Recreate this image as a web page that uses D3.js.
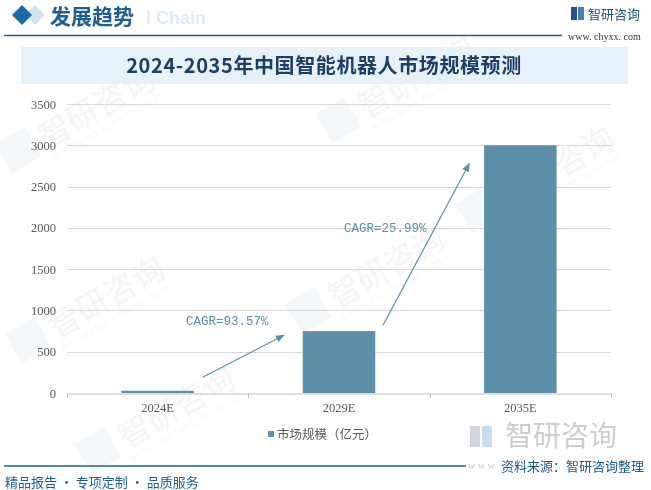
<!DOCTYPE html>
<html><head><meta charset="utf-8">
<script src="https://cdn.jsdelivr.net/npm/d3@7"></script>
<style>
html,body{margin:0;padding:0;background:#fff;}
svg{display:block;}
</style></head>
<body>
<svg id="c" width="651" height="490"></svg>
<script>
const categories = ["2024E", "2029E", "2035E"];
const values = [27, 750, 3000];
const yTicks = [0, 500, 1000, 1500, 2000, 2500, 3000, 3500];
const seriesName = "市场规模（亿元）";
const title = "2024-2035年中国智能机器人市场规模预测";
const cagrLabels = ["CAGR=93.57%", "CAGR=25.99%"];

const svg = d3.select("#c");
const W = 651, H = 490;
const plot = {l: 67, r: 611, t: 104, b: 393};
const cjk = "'Noto Sans CJK SC', 'Noto Sans', sans-serif";
const serifNum = "'Liberation Serif', 'DejaVu Serif', serif";

// faint watermarks
const wm = svg.append("g").attr("opacity", 0.05);
[[10,170],[330,140],[20,360],[300,330],[90,470],[470,230]].forEach(([x,y])=>{
  const g = wm.append("g").attr("transform", `translate(${x},${y}) rotate(-30)`);
  g.append("rect").attr("x",0).attr("y",-30).attr("width",34).attr("height",34).attr("fill","#2a6fb0");
  g.append("text").attr("x",42).attr("y",0).attr("font-family",cjk).attr("font-size",32).attr("fill","#333").text("智研咨询");
  g.append("text").attr("x",42).attr("y",14).attr("font-family",cjk).attr("font-size",8).attr("fill","#333").text("INTELLIGENCE RESEARCH GROUP");
});

// header
svg.append("text").attr("x",146).attr("y",24).attr("font-family","'Liberation Sans', Arial, sans-serif")
  .attr("font-weight","bold").attr("font-size",18).attr("fill","#deebf6").text("l Chain");
svg.append("path").attr("d","M35,5 L45,15 L35,25 L25,15 Z").attr("fill","#cfe2f0");
svg.append("path").attr("d","M22,5 L32,15 L22,25 L12,15 Z").attr("fill","#1a6aa5");
svg.append("text").attr("x",50).attr("y",24).attr("font-family",cjk).attr("font-weight","bold")
  .attr("font-size",21).attr("fill","#1d5f95").text("发展趋势");
svg.append("line").attr("x1",4).attr("x2",562).attr("y1",35.5).attr("y2",35.5).attr("stroke","#1a5f96").attr("stroke-width",1.5);

// top-right logo
svg.append("rect").attr("x",571).attr("y",7).attr("width",6).attr("height",13).attr("fill","#2a4f8f");
svg.append("rect").attr("x",578).attr("y",7).attr("width",6).attr("height",13).attr("fill","#3c7fc2");
svg.append("text").attr("x",588).attr("y",19).attr("font-family",cjk).attr("font-size",13).attr("fill","#1f4e86").text("智研咨询");
svg.append("text").attr("x",568).attr("y",40).attr("font-family",serifNum).attr("font-size",10).attr("fill","#333").text("www. chyxx. com");

// title band
svg.append("rect").attr("x",21).attr("y",47).attr("width",607).attr("height",37).attr("fill","#e6f1fa");
svg.append("text").attr("x",324).attr("y",73).attr("text-anchor","middle").attr("font-family","'Noto Sans CJK SC', sans-serif")
  .attr("font-weight","bold").attr("font-size",20).attr("letter-spacing",0.6).attr("fill","#1c3f66").text(title);

// scales
const x = d3.scaleBand().domain(categories).range([plot.l, plot.r]).paddingInner(0).paddingOuter(0);
const y = d3.scaleLinear().domain([0, 3500]).range([plot.b, plot.t]);
const barW = x.bandwidth() * 0.4;

// grid
svg.append("g").selectAll("line").data(yTicks.filter(d=>d>0)).join("line")
  .attr("x1",plot.l).attr("x2",plot.r).attr("y1",d=>Math.round(y(d))+0.5).attr("y2",d=>Math.round(y(d))+0.5)
  .attr("stroke","#d9d9d9").attr("stroke-width",1);

// y labels
svg.append("g").selectAll("text").data(yTicks).join("text")
  .attr("x",56).attr("y",d=>y(d)+4.5).attr("text-anchor","end")
  .attr("font-family",serifNum).attr("font-size",12.5).attr("fill","#595959").text(d=>d);

// bars
svg.append("g").selectAll("rect").data(values).join("rect")
  .attr("x",(d,i)=>x(categories[i]) + (x.bandwidth()-barW)/2)
  .attr("y",d=>y(d)).attr("width",barW).attr("height",d=>plot.b - y(d))
  .attr("fill","#5d8fa8");

// x axis
const xAxis = d3.axisBottom(x).tickSize(0).tickFormat(d=>d);
const xg = svg.append("g").attr("transform",`translate(0,${plot.b+0.5})`).call(xAxis);
xg.select(".domain").attr("stroke","#bfbfbf");
xg.selectAll("text").attr("font-family",serifNum).attr("font-size",12.5).attr("fill","#595959").attr("dy","1.25em");
const bounds = categories.map(c=>x(c)).concat([plot.r]);
svg.append("g").selectAll("line").data(bounds).join("line")
  .attr("x1",d=>Math.round(d)+0.5).attr("x2",d=>Math.round(d)+0.5).attr("y1",plot.b).attr("y2",plot.b+5)
  .attr("stroke","#bfbfbf");

// CAGR annotations
const ac = "#5b8fa8";
const defs = svg.append("defs");
defs.append("marker").attr("id","ar").attr("viewBox","0 0 10 10").attr("refX",9).attr("refY",5)
  .attr("markerWidth",9).attr("markerHeight",9).attr("orient","auto").attr("markerUnits","userSpaceOnUse")
  .append("path").attr("d","M0,1 L10,5 L0,9 Z").attr("fill",ac);
const c0 = x(categories[0]) + x.bandwidth()/2, c1 = x(categories[1]) + x.bandwidth()/2, c2 = x(categories[2]) + x.bandwidth()/2;
svg.append("line").attr("x1",c0+45).attr("y1",y(190)).attr("x2",c1-55).attr("y2",y(700))
  .attr("stroke",ac).attr("stroke-width",1.2).attr("marker-end","url(#ar)");
svg.append("line").attr("x1",c1+44).attr("y1",y(820)).attr("x2",c2-51).attr("y2",y(2780))
  .attr("stroke",ac).attr("stroke-width",1.2).attr("marker-end","url(#ar)");
svg.append("text").attr("x",186).attr("y",y(820)).attr("font-family","'Liberation Mono', monospace")
  .attr("font-size",12.5).attr("fill",ac).text(cagrLabels[0]);
svg.append("text").attr("x",344).attr("y",y(1950)).attr("font-family","'Liberation Mono', monospace")
  .attr("font-size",12.5).attr("fill",ac).text(cagrLabels[1]);

// legend
svg.append("rect").attr("x",268).attr("y",431).attr("width",6).attr("height",6).attr("fill","#5d8fa8");
svg.append("text").attr("x",277).attr("y",439).attr("font-family",cjk).attr("font-size",12.5).attr("fill","#595959").text(seriesName);

// bottom-right big logo
svg.append("rect").attr("x",470).attr("y",426).attr("width",10).attr("height",21).attr("fill","#cfd6e0");
svg.append("rect").attr("x",482).attr("y",426).attr("width",10).attr("height",21).attr("fill","#c7dcef");
svg.append("text").attr("x",505).attr("y",446).attr("font-family",cjk).attr("font-size",28).attr("fill","#cdcdcd").text("智研咨询");
svg.append("text").attr("x",468).attr("y",469).attr("font-family",serifNum).attr("font-size",10).attr("fill","#cdcdcd").text("w w w");

// footer
svg.append("line").attr("x1",4).attr("x2",466).attr("y1",466).attr("y2",466).attr("stroke","#1a5f96").attr("stroke-width",1.5);
svg.append("text").attr("x",501).attr("y",471).attr("font-family",cjk).attr("font-size",13).attr("fill","#1a5a96").text("资料来源：智研咨询整理");
svg.append("text").attr("x",5).attr("y",487).attr("font-family",cjk).attr("font-size",13).attr("fill","#1a5f9a").text("精品报告 · 专项定制 · 品质服务");
</script>
</body></html>
